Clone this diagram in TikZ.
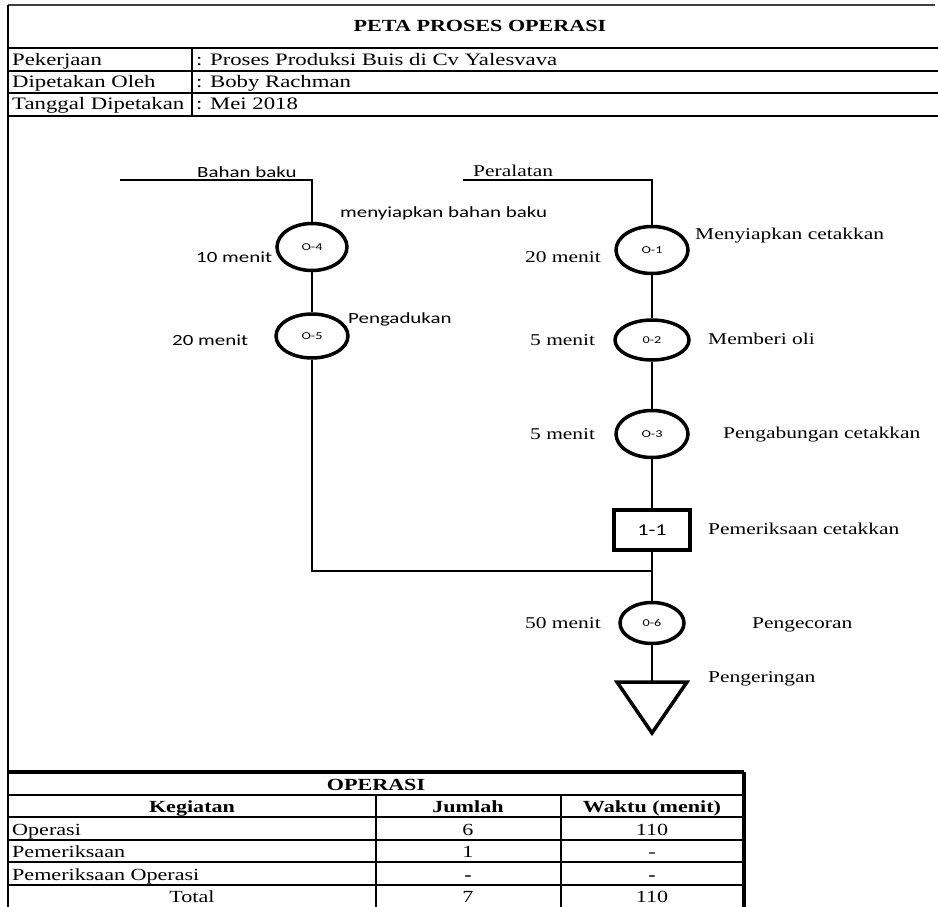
\documentclass[tikz,border=0pt]{standalone}
\usepackage{fontspec}
\setmainfont{Liberation Serif}[FakeStretch=1.3]
\newfontfamily\calib{Carlito}[FakeStretch=1.35]
\usetikzlibrary{shapes.geometric}
\begin{document}
\begin{tikzpicture}[x=1pt,y=-1pt,
  ln/.style={line width=2.4pt},
  opc/.style={ellipse, draw, line width=3.5pt, inner sep=0pt, minimum width=70pt, minimum height=47pt, font=\calib\fontsize{10.5}{11}\selectfont},
  insp/.style={rectangle, draw, line width=3.8pt, inner sep=0pt, minimum width=76pt, minimum height=40pt, font=\calib\fontsize{16.5}{18}\selectfont},
  ser/.style={font=\fontsize{16.5}{18}\selectfont, inner sep=0pt, anchor=base west},
  sans/.style={font=\calib\fontsize{15.5}{17}\selectfont, inner sep=0pt, anchor=base west},
  hd/.style={font=\fontsize{17.5}{19}\selectfont, inner sep=0pt, anchor=base west},
  tb/.style={font=\fontsize{17}{19}\selectfont, inner sep=0pt, anchor=base},
  tbl/.style={font=\fontsize{17}{19}\selectfont, inner sep=0pt, anchor=base west},
  tbb/.style={font=\bfseries\fontsize{17}{19}\selectfont, inner sep=0pt, anchor=base},
]
\useasboundingbox (0,0) rectangle (938,907);
\fill[white] (0,0) rectangle (938,907);

% ---------- header frame ----------
\draw[line width=1.2pt, black!75] (8,5) -- (935,5);
\draw[line width=1.3pt] (8,5) -- (8,907);
\draw[line width=1.8pt] (8,48) -- (938,48);
\draw[line width=2.4pt] (8,71) -- (938,71);
\draw[line width=2.4pt] (8,93) -- (938,93);
\draw[line width=2.4pt] (8,116) -- (938,116);
\draw[line width=2.4pt] (192,48) -- (192,116);

\node[font=\bfseries\fontsize{17}{19}\selectfont, inner sep=0pt, anchor=base] (title) at (480,32) {PETA PROSES OPERASI};
\node[hd] (h1) at (12,66) {Pekerjaan};
\node[hd] (h2) at (12,88) {Dipetakan Oleh};
\node[hd] (h3) at (12,110) {Tanggal Dipetakan};
\node[hd] (v1) at (196,66) {: Proses Produksi Buis di Cv Yalesvava};
\node[hd] (v2) at (196,88) {: Boby Rachman};
\node[hd] (v3) at (196,110) {: Mei 2018};

% ---------- process chart ----------
\node[opc] (O4) at (312,247) {O-4};
\node[opc, minimum width=72pt, minimum height=44pt] (O5) at (312,336) {O-5};
\node[opc, minimum width=72pt] (O1) at (652,250) {O-1};
\node[opc, minimum width=74pt, minimum height=40pt] (O2) at (652,340) {0-2};
\node[opc, minimum width=72pt] (O3) at (652,434) {O-3};
\node[insp] (I1) at (652,530) {1-1};
\node[opc, minimum width=64pt, minimum height=41pt] (O6) at (652,623) {0-6};

\coordinate (bbs) at (120,180);
\coordinate (pls) at (463,180);
\coordinate (J) at (652,571);
\coordinate (tri) at (652,682);

\draw[line width=3.5pt, line join=miter] (617,682) -- (687,682) -- (652,733) -- cycle;

\draw[ln] (bbs) -| (O4.north);
\draw[ln] (O4) -- (O5);
\draw[ln] (O5.south) |- (J);
\draw[ln] (pls) -| (O1.north);
\draw[ln] (O1) -- (O2);
\draw[ln] (O2) -- (O3);
\draw[ln] (O3) -- (I1);
\draw[ln] (I1) -- (O6);
\draw[ln] (O6) -- (tri);

\node[sans] (lbb) at (197,177) {Bahan baku};
\node[sans] (l4) at (340,217) {menyiapkan bahan baku};
\node[sans] (t4) at (196,262) {10 menit};
\node[sans] (l5) at (348,323) {Pengadukan};
\node[sans] (t5) at (172,345) {20 menit};

\node[ser] (lpl) at (473,176) {Peralatan};
\node[ser] (l1) at (695,239) {Menyiapkan cetakkan};
\node[ser] (t1) at (525,262) {20 menit};
\node[ser] (t2) at (530,345) {5 menit};
\node[ser] (l2) at (708,344) {Memberi oli};
\node[ser] (t3) at (530,439) {5 menit};
\node[ser] (l3) at (723,438) {Pengabungan cetakkan};
\node[ser] (li) at (708,534) {Pemeriksaan cetakkan};
\node[ser] (t6) at (525,628) {50 menit};
\node[ser] (l6) at (752,628) {Pengecoran};
\node[ser] (ls) at (708,682) {Pengeringan};

% ---------- summary table ----------
\draw[line width=3.2pt] (8,772) -- (744,772);
\draw[line width=2.2pt] (8,795) -- (744,795);
\draw[line width=2.2pt] (8,817) -- (744,817);
\draw[line width=1.8pt] (8,840) -- (744,840);
\draw[line width=1.8pt] (8,862) -- (744,862);
\draw[line width=2.8pt] (8,885) -- (744,885);
\draw[line width=2.2pt] (376,795) -- (376,907);
\draw[line width=2.2pt] (561,795) -- (561,907);
\draw[line width=3.2pt] (744,772) -- (744,907);

\node[tbb] (top) at (376,790) {OPERASI};
\node[tbb] (c1) at (192,812) {Kegiatan};
\node[tbb] (c2) at (468,812) {Jumlah};
\node[tbb] (c3) at (652,812) {Waktu (menit)};
\node[tbl] (r1) at (12,835) {Operasi};
\node[tb] (r1b) at (468,835) {6};
\node[tb] (r1c) at (652,835) {110};
\node[tbl] (r2) at (12,857) {Pemeriksaan};
\node[tb] (r2b) at (468,857) {1};
\node[tb] (r2c) at (652,857) {-};
\node[tbl] (r3) at (12,880) {Pemeriksaan Operasi};
\node[tbb] (r3b) at (468,880) {-};
\node[tbb] (r3c) at (652,880) {-};
\node[tb] (r4) at (192,902) {Total};
\node[tb] (r4b) at (468,902) {7};
\node[tb] (r4c) at (652,902) {110};
\end{tikzpicture}
\end{document}
